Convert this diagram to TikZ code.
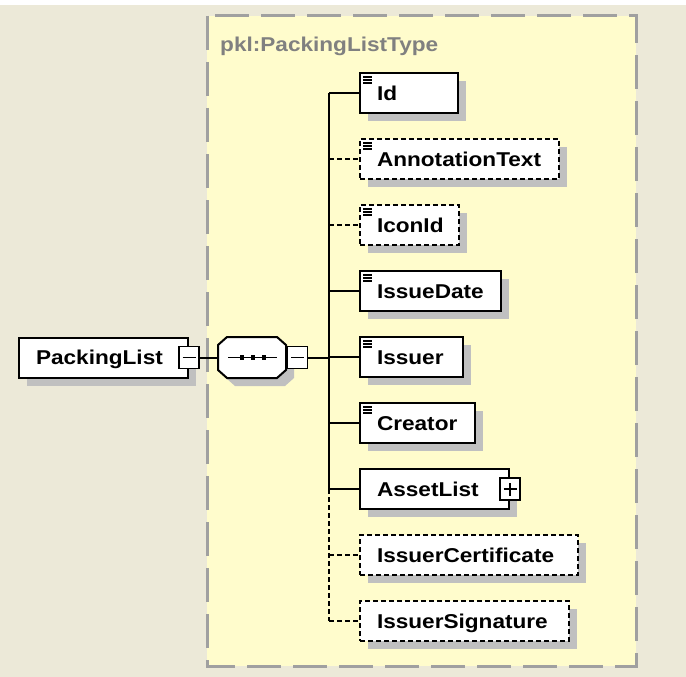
\documentclass[tikz,border=0pt]{standalone}
\usepackage{fontspec}
\newfontfamily\dfont[FakeStretch=1.13]{Liberation Sans}
\usetikzlibrary{shadows}
\definecolor{beige}{RGB}{236,233,216}
\definecolor{yellowbg}{RGB}{255,252,204}
\definecolor{bordergray}{RGB}{160,160,160}
\definecolor{shgray}{RGB}{192,192,192}
\definecolor{titlegray}{RGB}{128,128,128}
\tikzset{
  lblfont/.style={font=\dfont\bfseries\fontsize{20}{24}\selectfont},
  elem/.style={lblfont, draw=black, line width=2pt, fill=white, anchor=west,
    minimum height=40pt, inner xsep=17pt, inner ysep=0pt,
    text height=14.3pt, text depth=0pt, align=left,
    drop shadow={shadow xshift=8pt, shadow yshift=-8pt, opacity=1, fill=shgray}},
  opt/.style={dash pattern=on 5pt off 3pt},
  btn/.style={draw=black, line width=1.5pt, fill=white, minimum width=20pt,
    minimum height=22pt, inner sep=0pt},
  conn/.style={line width=2pt},
  icn/.style={line width=1.3pt},
}
\begin{document}
\begin{tikzpicture}[x=1pt,y=-1pt]
\useasboundingbox (0,0) rectangle (686,677);
\fill[beige] (0,0) rectangle (686,677);
\fill[white] (0,0) rectangle (686,5);
% complex type container
\draw[fill=yellowbg, draw=bordergray, line width=3pt, dash pattern=on 34pt off 12pt]
  (207,16) rectangle (636,666);
\node[lblfont, text=titlegray, anchor=base west, inner sep=0pt] (title) at (220,52) {pkl:PackingListType};

% root element
\node[elem, text width=135pt] (pl) at (18,357.5) {PackingList};
\node[btn] (plb) at (pl.east) {};
\draw[line width=1.8pt] ([xshift=-6.5pt]plb.center) -- ([xshift=6.5pt]plb.center);

% sequence compositor
\node[minimum width=68pt, minimum height=41pt, inner sep=0pt] (seq) at (252,357.5) {};
\fill[shgray] (235,345) -- (285,345) -- (294,353) -- (294,378) -- (285,386) -- (235,386) -- (226,378) -- (226,353) -- cycle;
\filldraw[fill=white, draw=black, line width=2pt]
  (227,337) -- (277,337) -- (286,345) -- (286,370) -- (277,378) -- (227,378) -- (218,370) -- (218,345) -- cycle;
\draw[line width=1.5pt] (228,357.5) -- (277,357.5);
\foreach \xx in {242,253,264} \fill (\xx-2.3,355.2) rectangle (\xx+2.3,359.8);
\node[btn] (seqb) at (297.5,357.5) {};
\draw[line width=1.8pt] ([xshift=-6.5pt]seqb.center) -- ([xshift=6.5pt]seqb.center);

% children
\node[elem, text width=64pt] (id) at (359,93) {Id};
\node[elem, opt, text width=165pt] (ann) at (359,159) {AnnotationText};
\node[elem, opt, text width=65pt] (icon) at (359,225) {IconId};
\node[elem, text width=107pt] (date) at (359,291) {IssueDate};
\node[elem, text width=69pt] (issuer) at (359,357) {Issuer};
\node[elem, text width=81pt] (creator) at (359,423) {Creator};
\node[elem, text width=115pt] (asset) at (359,489) {AssetList};
\node[elem, opt, text width=184pt] (cert) at (359,555) {IssuerCertificate};
\node[elem, opt, text width=175pt] (sig) at (359,621) {IssuerSignature};
\node[btn] (assetb) at (asset.east) {};
\draw[line width=1.8pt] ([xshift=-6.5pt]assetb.center) -- ([xshift=6.5pt]assetb.center);
\draw[line width=1.8pt] ([yshift=-6.5pt]assetb.center) -- ([yshift=6.5pt]assetb.center);

% simple-type icons
\foreach \n in {id,ann,icon,date,issuer,creator} {
  \draw[icn] ([xshift=4pt,yshift=-5pt]\n.north west) -- ++(9,0);
  \draw[icn] ([xshift=4pt,yshift=-8pt]\n.north west) -- ++(9,0);
  \draw[icn] ([xshift=4pt,yshift=-11pt]\n.north west) -- ++(9,0);
}

% connectors
\coordinate (tr) at (329,357.5);
\draw[conn] (plb.east) -- (seq.west);
\draw[conn] (seqb.east) -- (tr);
\draw[conn] (tr |- id.west) -- (tr |- asset.west);
\draw[conn, opt] (tr |- asset.west) -- (tr |- sig.west);
\foreach \n in {id,date,issuer,creator,asset} \draw[conn] (tr |- \n.west) -- (\n.west);
\foreach \n in {ann,icon,cert,sig} \draw[conn, opt] (tr |- \n.west) -- (\n.west);
\end{tikzpicture}
\end{document}
